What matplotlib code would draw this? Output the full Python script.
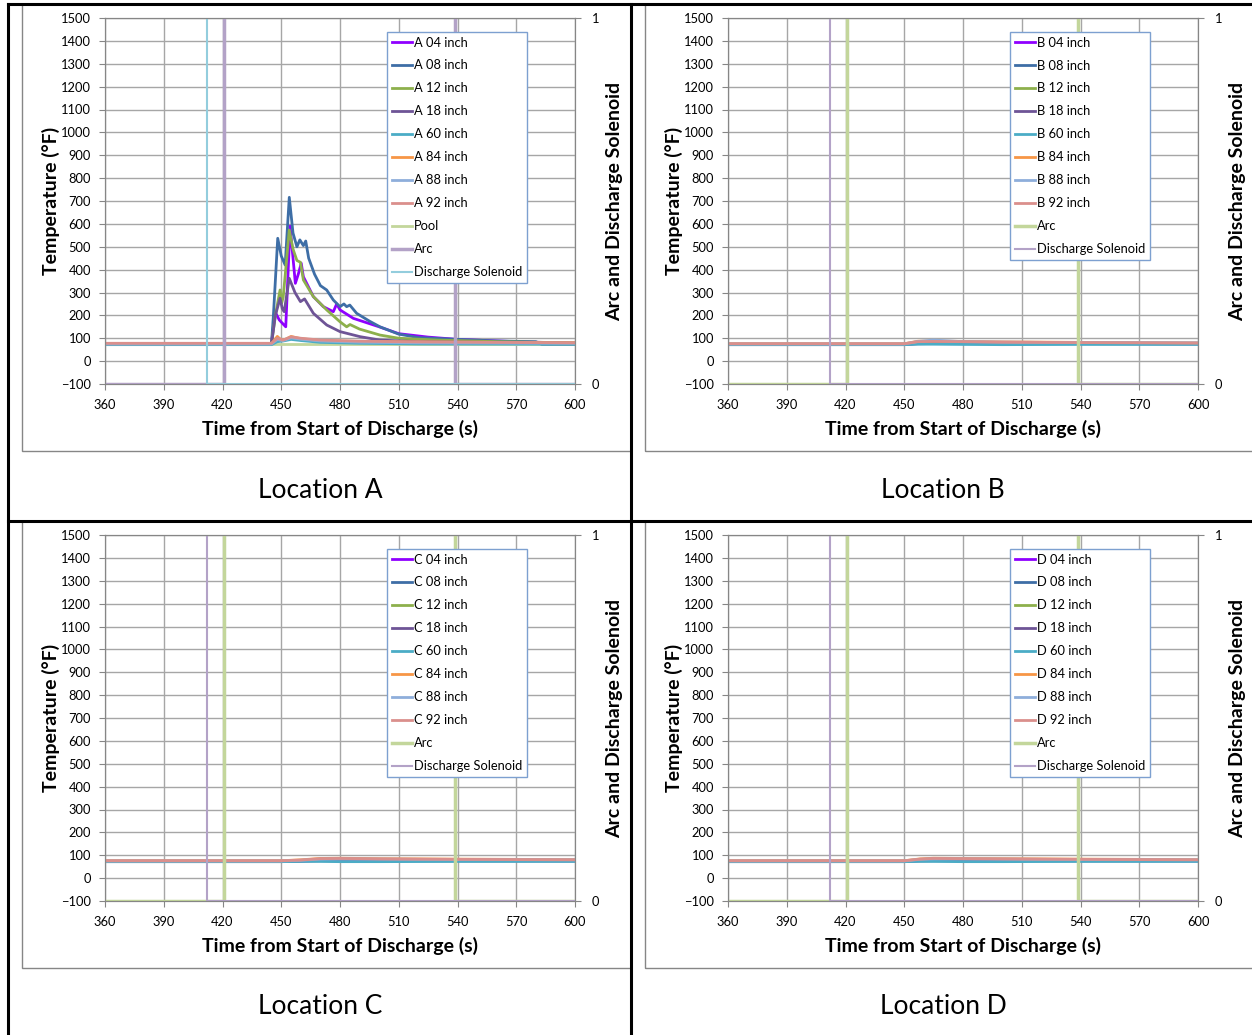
import matplotlib.pyplot as plt
from matplotlib.lines import Line2D
from matplotlib.patches import Rectangle

plt.rcParams['font.family'] = ['Lato', 'DejaVu Sans']

W, H = 1252, 1035

# sensor depths and colours (Excel palette)
depths = ['04', '08', '12', '18', '60', '84', '88', '92']
depth_colors = ['#8F00FF', '#3E6EA6', '#8DB04C', '#6E5496',
                '#4BACC6', '#F79646', '#8EAEDB', '#DA8F8C']

# ---- Location A ----
a04_t = [360, 445, 446.8, 449, 452.3, 454.5, 457.2, 458.7, 460.2, 461.3, 466.4, 471.5,
         476.6, 478.3, 480, 486.8, 500, 510, 525, 540, 570, 600]
a04_v = [75, 75, 216, 180, 150, 590, 340, 380, 428, 369, 282, 238,
         216, 250, 224, 187, 150, 120, 105, 95, 85, 78]
a08_t = [360, 445, 446, 448.2, 450, 452, 454.1, 456, 458, 459.5, 461.3, 462.5, 464,
         467, 470, 473.2, 476.6, 480, 482, 483.4, 485, 488.5, 495, 500.4, 510, 520,
         540, 560, 580, 583, 600]
a08_v = [75, 75, 200, 537, 460, 420, 716, 560, 500, 530, 505, 525, 450,
         380, 330, 311, 267, 238, 250, 238, 245, 209, 175, 150, 118, 103,
         95, 88, 85, 74, 74]
a12_t = [360, 445, 447, 449.4, 450.2, 451, 454.1, 456, 458, 459.8, 461.3, 466.4,
         473.2, 480, 483.4, 485.1, 490, 500.4, 510, 530, 560, 600]
a12_v = [75, 75, 200, 311, 253, 280, 573, 490, 440, 432, 355, 282,
         224, 172, 150, 160, 140, 114, 100, 92, 85, 80]
a18_t = [360, 445, 447, 449.4, 450.5, 451.5, 454.1, 457, 459.8, 461.9, 466.4,
         473.2, 480, 490.2, 500.4, 520, 600]
a18_v = [75, 75, 200, 275, 230, 216, 362, 300, 260, 272, 209,
         158, 129, 107, 92, 85, 78]
a60_t = [360, 445, 448, 451, 455, 460, 470, 490, 520, 600]
a60_v = [72, 72, 85, 88, 95, 90, 82, 78, 75, 74]
a84_t = [360, 445, 448, 450, 452, 455, 460, 470, 490, 520, 560, 600]
a84_v = [76, 76, 108, 92, 95, 108, 98, 90, 86, 84, 82, 80]
a88_t = [360, 445, 448, 451, 455, 460, 470, 490, 520, 600]
a88_v = [75, 75, 95, 90, 102, 96, 88, 83, 80, 78]
a92_t = [360, 445, 448, 451, 455, 460, 470, 490, 520, 560, 600]
a92_v = [78, 78, 100, 92, 106, 100, 92, 87, 84, 82, 80]
pool_t = [360, 600]
pool_v = [74, 74]

# ---- Locations B, C, D (nearly flat) ----
b_t = [360, 450, 457, 465, 480, 500, 540, 600]
b04_v = [73, 73, 78, 79, 78, 77, 77, 76]
b08_v = [74, 74, 80, 81, 80, 79, 78, 77]
b12_v = [74, 74, 80, 81, 80, 79, 78, 77]
b18_v = [72, 72, 76, 77, 77, 76, 76, 75]
b60_v = [72, 72, 74, 74, 73, 72, 73, 73]
b84_v = [76, 76, 87, 88, 86, 84, 82, 80]
b88_v = [75, 75, 86, 92, 85, 83, 81, 80]
b92_v = [76, 76, 85, 86, 85, 83, 81, 79]

c_t = [360, 450, 460, 470, 480, 500, 540, 600]
c04_v = [73, 73, 75, 78, 78, 77, 77, 76]
c08_v = [74, 74, 76, 79, 79, 78, 78, 77]
c12_v = [74, 74, 76, 79, 79, 78, 78, 77]
c18_v = [72, 72, 74, 76, 76, 76, 75, 75]
c60_v = [72, 72, 73, 73, 72, 72, 73, 73]
c84_v = [76, 76, 80, 86, 87, 85, 83, 81]
c88_v = [75, 75, 78, 83, 84, 83, 81, 80]
c92_v = [76, 76, 79, 85, 86, 84, 82, 80]

d_t = [360, 450, 458, 465, 480, 500, 540, 600]
d04_v = [73, 73, 77, 78, 78, 77, 77, 76]
d08_v = [74, 74, 78, 79, 79, 78, 78, 77]
d12_v = [74, 74, 78, 79, 79, 78, 78, 77]
d18_v = [72, 72, 75, 76, 76, 76, 75, 75]
d60_v = [72, 72, 73, 73, 72, 72, 73, 73]
d84_v = [76, 76, 84, 87, 86, 85, 83, 81]
d88_v = [75, 75, 82, 84, 84, 83, 81, 80]
d92_v = [76, 76, 83, 86, 85, 84, 82, 80]

# on/off signals (right axis); the "on" level sits just above the axis top
arc_t = [360, 421, 421, 538.5, 538.5, 600]
arc_v = [0, 0, 1.03, 1.03, 0, 0]
sol_t = [360, 412, 412, 600]
sol_v = [1.03, 1.03, 0, 0]

x_ticks = list(range(360, 601, 30))
y_ticks = list(range(-100, 1501, 100))

fig = plt.figure(figsize=(W / 100, H / 100), dpi=100)


def panel(letter, x0, ytop, series, extra, arc_col, sol_col, legend_xy):
    ax = fig.add_axes([x0 / W, 1 - (ytop + 366) / H, 470 / W, 366 / H])
    handles = []
    for (t, v), d, c in zip(series, depths, depth_colors):
        h, = ax.plot(t, v, color=c, lw=2, label=f'{letter} {d} inch')
        handles.append(h)
    for t, v, lab, c in extra:
        h, = ax.plot(t, v, color=c, lw=2, label=lab, zorder=1)
        handles.append(h)
    ax.set_xlim(360, 600)
    ax.set_ylim(-100, 1500)
    ax.set_xticks(x_ticks)
    ax.set_yticks(y_ticks)
    ax.grid(True, color='#A6A6A6', lw=1)
    ax.set_axisbelow(True)
    for s in ax.spines.values():
        s.set_color('#868686')
    ax.tick_params(labelsize=9.3, color='#868686', length=4)
    ax.tick_params(axis='x', pad=7)
    ax.tick_params(axis='y', pad=6)
    ax.set_xlabel('Time from Start of Discharge (s)', fontsize=14, fontweight='bold', labelpad=6)
    ax.set_ylabel('Temperature (°F)', fontsize=14, fontweight='bold', labelpad=1)

    ax2 = ax.twinx()
    ha, = ax2.plot(arc_t, arc_v, color=arc_col, lw=2.5, label='Arc')
    hs, = ax2.plot(sol_t, sol_v, color=sol_col, lw=1.5, label='Discharge Solenoid')
    ax2.set_ylim(0, 1)
    ax2.set_yticks([0, 1])
    ax2.tick_params(labelsize=9.3, color='#868686', length=4, pad=8)
    for s in ax2.spines.values():
        s.set_color('#868686')
    ax2.set_ylabel('Arc and Discharge Solenoid', fontsize=14, fontweight='bold', labelpad=5)
    handles += [ha, hs]
    leg = ax2.legend(handles=handles, loc='upper left',
                     bbox_to_anchor=(legend_xy[0] / W, 1 - legend_xy[1] / H),
                     bbox_transform=fig.transFigure, borderaxespad=0,
                     fontsize=9.3, fancybox=False, framealpha=1, edgecolor='#7DA0D0',
                     handlelength=1.6, handletextpad=0.15, labelspacing=0.85,
                     borderpad=0.35)
    leg.get_frame().set_linewidth(1)
    leg.set_zorder(10)


panel('A', 105, 18,
      [(a04_t, a04_v), (a08_t, a08_v), (a12_t, a12_v), (a18_t, a18_v),
       (a60_t, a60_v), (a84_t, a84_v), (a88_t, a88_v), (a92_t, a92_v)],
      [(pool_t, pool_v, 'Pool', '#C3D69B')], '#B3A2C7', '#93CDDD', (387, 32))
panel('B', 728, 18,
      [(b_t, b04_v), (b_t, b08_v), (b_t, b12_v), (b_t, b18_v),
       (b_t, b60_v), (b_t, b84_v), (b_t, b88_v), (b_t, b92_v)],
      [], '#C3D69B', '#B3A2C7', (1010, 32))
panel('C', 105, 535,
      [(c_t, c04_v), (c_t, c08_v), (c_t, c12_v), (c_t, c18_v),
       (c_t, c60_v), (c_t, c84_v), (c_t, c88_v), (c_t, c92_v)],
      [], '#C3D69B', '#B3A2C7', (387, 549))
panel('D', 728, 535,
      [(d_t, d04_v), (d_t, d08_v), (d_t, d12_v), (d_t, d18_v),
       (d_t, d60_v), (d_t, d84_v), (d_t, d88_v), (d_t, d92_v)],
      [], '#C3D69B', '#B3A2C7', (1010, 549))

# chart area frames
for x0, y0, x1, y1 in [(22, 4, 631, 451), (645, 4, 1260, 451),
                       (22, 521, 631, 968), (645, 521, 1260, 968)]:
    fig.add_artist(Rectangle((x0 / W, 1 - y1 / H), (x1 - x0) / W, (y1 - y0) / H,
                             transform=fig.transFigure, fill=False,
                             edgecolor='#868686', lw=1))

# table borders
for xs, ys in [((8, W), (4, 4)), ((8, 8), (4, H)), ((631, 631), (4, H)), ((8, W), (521, 521))]:
    fig.add_artist(Line2D([x / W for x in xs], [1 - y / H for y in ys],
                          color='black', lw=2.2, transform=fig.transFigure))

for lab, x, y in [('Location A', 320, 490), ('Location B', 943, 490),
                  ('Location C', 320, 1007), ('Location D', 943, 1007)]:
    fig.text(x / W, 1 - y / H, lab, ha='center', va='center', fontsize=19)

fig.savefig('out.png', dpi=100)
